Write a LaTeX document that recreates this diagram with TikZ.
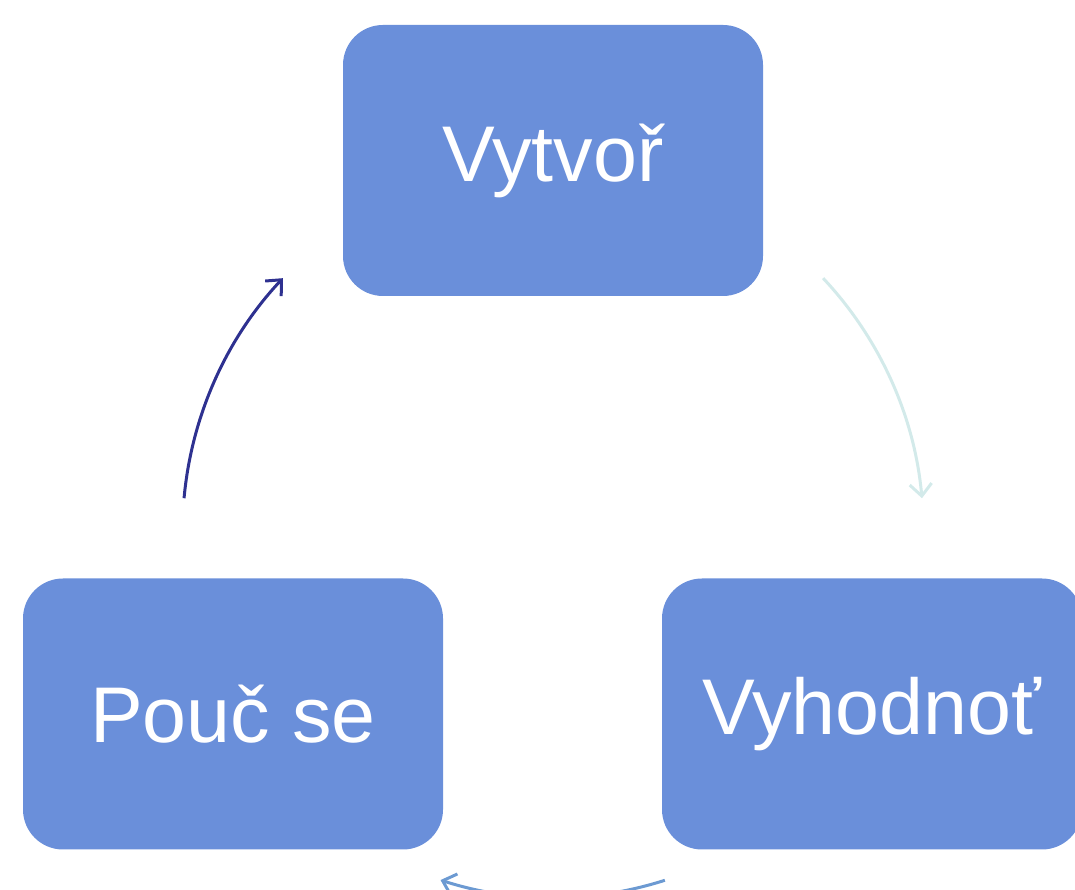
\documentclass[tikz,border=0pt]{standalone}
\usepackage{fontspec}
\setmainfont{Liberation Sans}
\usetikzlibrary{arrows.meta}
\definecolor{boxblue}{HTML}{6A8FDA}
\definecolor{arrA}{HTML}{D3EAEA}
\definecolor{arrB}{HTML}{6C9AD2}
\definecolor{arrC}{HTML}{2E3190}
\begin{document}
\begin{tikzpicture}[x=1pt,y=1pt,
  stepbox/.style={fill=boxblue, rounded corners=40pt, minimum width=420pt, minimum height=271pt,
    inner sep=0pt, text=white, font=\fontsize{79}{90}\selectfont},
  cyc/.style={line width=3pt, -{Straight Barb[length=12pt,width=22pt,line width=3pt]}}]
\useasboundingbox (0,0) rectangle (1075,890);
\begin{scope}
\clip (0,0) rectangle (1075,890);
\node[stepbox] (vytvor) at (553,729.5) {Vytvoř};
\node[stepbox] (pouc) at (233,176) {Pouč se};
\node[stepbox] (vyhod) at (872,176) {Vyhodnoť};
\coordinate (c) at (553,358.2);
\draw[cyc, arrA] (c) ++(43.2:370.5) arc[start angle=43.2, end angle=5.2, radius=370.5];
\draw[cyc, arrB] (c) ++(-72.2:366) arc[start angle=-72.2, end angle=-107.9, radius=366];
\draw[cyc, arrC] (c) ++(174.8:370.5) arc[start angle=174.8, end angle=136.8, radius=370.5];
\end{scope}
\end{tikzpicture}
\end{document}
